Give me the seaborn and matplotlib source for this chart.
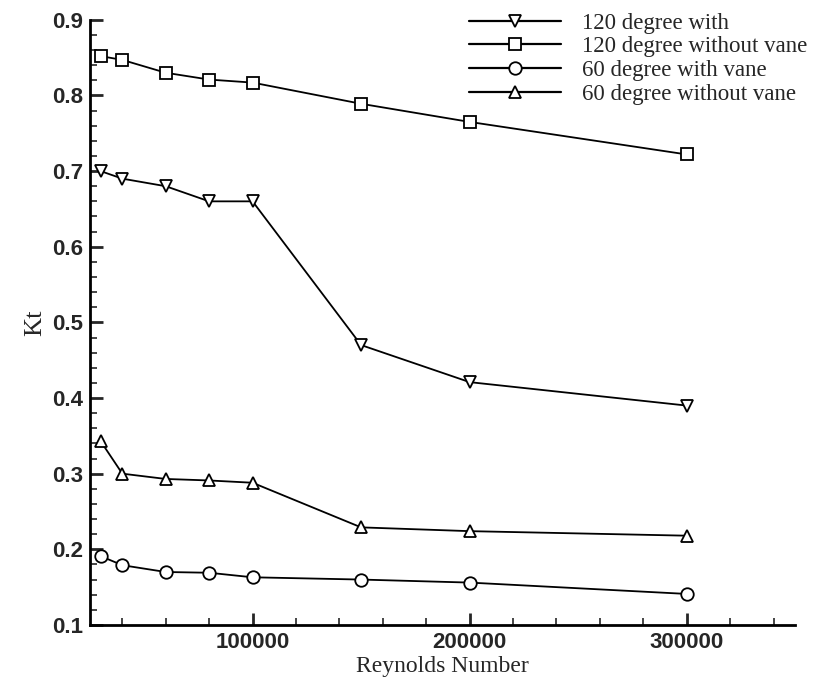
import numpy as np
import pandas as pd
import matplotlib
matplotlib.use("Agg")
from matplotlib import pyplot as plt
from matplotlib.ticker import MultipleLocator
import seaborn as sns

# Reynolds number of every measurement
reynolds = [30000, 40000, 60000, 80000, 100000, 150000, 200000, 300000]

kt_120_with = [0.700, 0.690, 0.680, 0.660, 0.660, 0.470, 0.421, 0.390]
kt_120_without = [0.852, 0.847, 0.830, 0.821, 0.817, 0.789, 0.765, 0.722]
kt_60_with = [0.191, 0.179, 0.170, 0.169, 0.163, 0.160, 0.156, 0.141]
kt_60_without = [0.343, 0.300, 0.293, 0.291, 0.288, 0.229, 0.224, 0.218]

labels = ['120 degree with', '120 degree without vane',
          '60 degree with vane', '60 degree without vane']
markers = ['v', 's', 'o', '^']

if __name__ == '__main__':
    sns.set_style("ticks")

    df = pd.DataFrame({
        'Re': reynolds * 4,
        'Kt': kt_120_with + kt_120_without + kt_60_with + kt_60_without,
        'case': np.repeat(labels, len(reynolds)),
    })

    fig = plt.figure(figsize=(8.31, 6.83), dpi=100)
    ax = fig.add_axes([0.108, 0.085, 0.849, 0.886])

    sns.lineplot(data=df, x='Re', y='Kt', style='case', style_order=labels,
                 markers=dict(zip(labels, markers)), dashes=False,
                 color='black', linewidth=1.3, markersize=9,
                 markerfacecolor='white', markeredgecolor='black',
                 markeredgewidth=1.3, ax=ax)

    ax.set_xlim(25000, 350000)
    ax.set_ylim(0.1, 0.9)
    ax.xaxis.set_minor_locator(MultipleLocator(20000))
    ax.yaxis.set_minor_locator(MultipleLocator(0.02))
    ax.set_xticks([100000, 200000, 300000])
    ax.set_xticklabels(['100000', '200000', '300000'])
    ax.set_yticks(np.arange(0.1, 0.91, 0.1))
    ax.set_yticklabels(['0.1', '0.2', '0.3', '0.4', '0.5', '0.6', '0.7', '0.8', '0.9'])

    ax.tick_params(which='major', direction='in', length=9, width=2, labelsize=16, pad=5)
    ax.tick_params(which='minor', direction='in', length=5, width=1.2)
    for lab in ax.get_xticklabels() + ax.get_yticklabels():
        lab.set_fontfamily('Liberation Sans')
        lab.set_fontweight('bold')

    for side in ['top', 'right']:
        ax.spines[side].set_visible(False)
    for side in ['left', 'bottom']:
        ax.spines[side].set_linewidth(2)
        ax.spines[side].set_color('black')

    ax.set_xlabel('Reynolds Number', fontfamily='Liberation Serif', fontsize=17, labelpad=2)
    ax.set_ylabel('Kt', fontfamily='Liberation Serif', fontsize=19, labelpad=4)

    leg = ax.legend(loc='upper left', bbox_to_anchor=(0.509, 1.046), frameon=False,
                    handlelength=4.0, handletextpad=0.9, labelspacing=0.12,
                    prop={'family': 'Liberation Serif', 'size': 16.5},
                    title=None)
    for line in leg.get_lines():
        line.set_linewidth(1.6)

    plt.savefig('out.png', dpi=100)
